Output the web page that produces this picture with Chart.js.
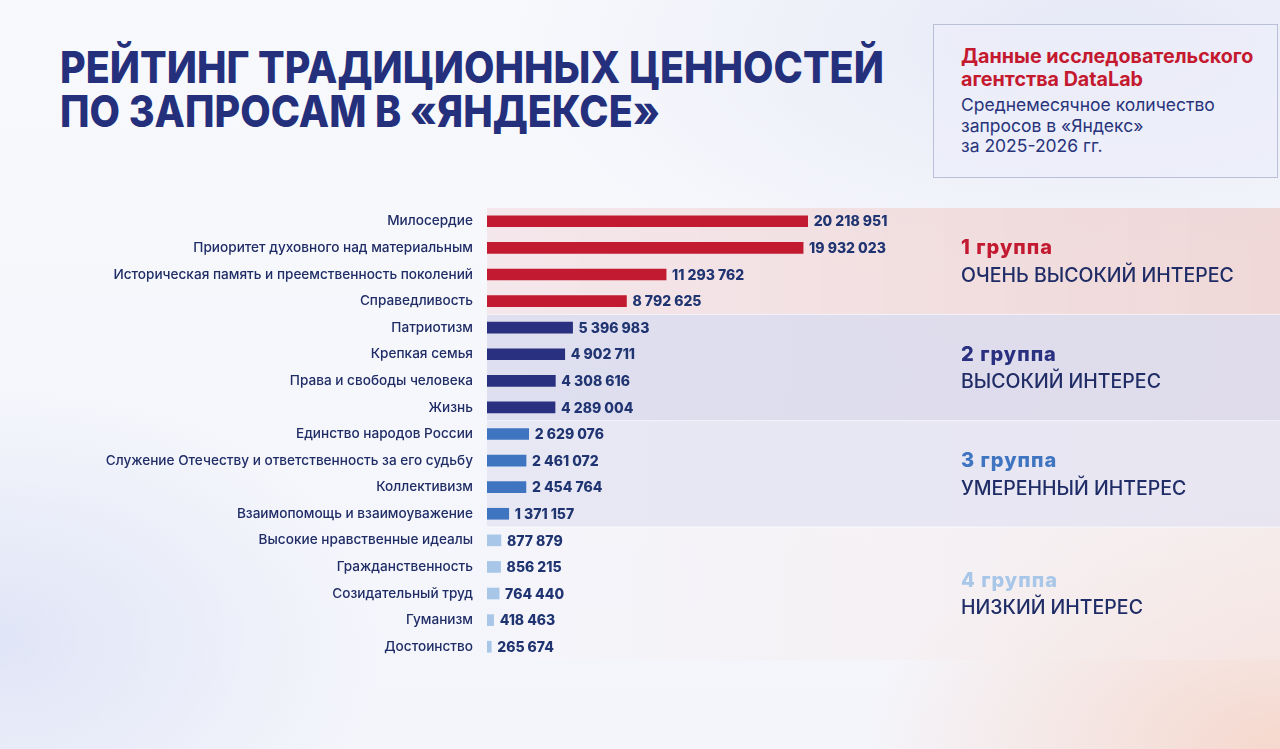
<!DOCTYPE html>
<html lang="ru">
<head>
<meta charset="utf-8">
<script src="https://cdn.jsdelivr.net/npm/chart.js@4.4.1/dist/chart.umd.min.js"></script>
<style>
  html, body { margin: 0; padding: 0; }
  body {
    width: 1280px; height: 749px; overflow: hidden; position: relative;
    font-family: Inter, "Noto Sans", sans-serif;
    background:
      radial-gradient(ellipse 420px 260px at 1280px 749px, rgba(246, 206, 190, 0.75), rgba(246, 206, 190, 0) 100%),
      radial-gradient(ellipse 380px 260px at 0px 640px, rgba(215, 222, 245, 0.7), rgba(215, 222, 245, 0) 100%),
      radial-gradient(ellipse 600px 260px at 1100px 40px, rgba(225, 228, 245, 0.8), rgba(225, 228, 245, 0) 100%),
      linear-gradient(180deg, #f8f9fc 0%, #f4f5fb 100%);
  }
  #title {
    position: absolute; left: 60px; top: 45px; margin: 0;
    font-weight: 800; font-size: 44px; line-height: 44px; letter-spacing: 0;
    color: #25307d; white-space: nowrap; transform-origin: 0 0;
  }
  #info {
    position: absolute; left: 933px; top: 24px; width: 345px; height: 154px;
    box-sizing: border-box; border: 1px solid #b9c0d8;
    background: rgba(236, 238, 249, 0.75);
    padding: 20px 0 0 27px;
  }
  #info .src { color: #c4192f; font-weight: 700; font-size: 19.7px; line-height: 23px; }
  #info .desc { color: #28337a; font-size: 17.5px; line-height: 20.5px; margin-top: 4px; }
  #wrap { position: absolute; left: 0; top: 0; width: 1280px; height: 749px; }
</style>
</head>
<body>
<h1 id="title">РЕЙТИНГ ТРАДИЦИОННЫХ ЦЕННОСТЕЙ<br>ПО ЗАПРОСАМ В «ЯНДЕКСЕ»</h1>
<div id="info">
  <div class="src">Данные исследовательского<br>агентства DataLab</div>
  <div class="desc">Среднемесячное количество<br>запросов в «Яндекс»<br>за 2025-2026 гг.</div>
</div>
<div id="wrap"><canvas id="chart"></canvas></div>
<script>
// Values
const categories = [
    'Милосердие',
    'Приоритет духовного над материальным',
    'Историческая память и преемственность поколений',
    'Справедливость',
    'Патриотизм',
    'Крепкая семья',
    'Права и свободы человека',
    'Жизнь',
    'Единство народов России',
    'Служение Отечеству и ответственность за его судьбу',
    'Коллективизм',
    'Взаимопомощь и взаимоуважение',
    'Высокие нравственные идеалы',
    'Гражданственность',
    'Созидательный труд',
    'Гуманизм',
    'Достоинство'
];
const requests = [
    20218951, 19932023, 11293762, 8792625,
    5396983, 4902711, 4308616, 4289004,
    2629076, 2461072, 2454764, 1371157,
    877879, 856215, 764440, 418463, 265674
];
// group number (0..3) for every row
const rowGroup = [0, 0, 0, 0, 1, 1, 1, 1, 2, 2, 2, 2, 3, 3, 3, 3, 3];
const groupTitles = ['1 группа', '2 группа', '3 группа', '4 группа'];
const groupSubtitles = ['ОЧЕНЬ ВЫСОКИЙ ИНТЕРЕС', 'ВЫСОКИЙ ИНТЕРЕС', 'УМЕРЕННЫЙ ИНТЕРЕС', 'НИЗКИЙ ИНТЕРЕС'];

// Styles
const groupColors = ['#c21a30', '#28307f', '#3f74c0', '#a8c6e8'];
const bandColors = [
    ['rgba(243, 226, 230, 0.8)', 'rgba(238, 210, 208, 0.85)'],
    ['rgba(216, 216, 236, 0.8)', 'rgba(218, 212, 230, 0.8)'],
    ['rgba(226, 227, 242, 0.75)', 'rgba(226, 224, 238, 0.75)'],
    ['rgba(244, 245, 251, 0.6)', 'rgba(246, 232, 230, 0.6)']
];
const textNavy = '#1f2c66';

// squeeze the heading to the width it has in the picture
const title = document.getElementById('title');
title.style.transform = 'scaleX(' + (824 / title.scrollWidth) + ')';

const fmt = v => String(v).replace(/\B(?=(\d{3})+(?!\d))/g, ' ');

// group bands behind the bars + group captions on the right
const bandsPlugin = {
    id: 'bands',
    beforeDatasetsDraw(chart) {
        const { ctx, chartArea, scales: { y } } = chart;
        const step = y.getPixelForValue(1) - y.getPixelForValue(0);
        const right = chart.width;
        groupTitles.forEach((t, g) => {
            const first = rowGroup.indexOf(g);
            const last = rowGroup.lastIndexOf(g);
            const top = y.getPixelForValue(first) - step / 2;
            const bottom = y.getPixelForValue(last) + step / 2;
            const grad = ctx.createLinearGradient(chartArea.left, 0, right, 0);
            grad.addColorStop(0, bandColors[g][0]);
            grad.addColorStop(1, bandColors[g][1]);
            ctx.save();
            ctx.fillStyle = grad;
            ctx.fillRect(chartArea.left, top, right - chartArea.left, bottom - top);
            if (g > 0) {
                ctx.fillStyle = 'rgba(255, 255, 255, 0.55)';
                ctx.fillRect(chartArea.left, top - 0.5, right - chartArea.left, 1);
            }
            const mid = (top + bottom) / 2;
            ctx.textAlign = 'left';
            ctx.textBaseline = 'middle';
            ctx.fillStyle = groupColors[g];
            ctx.font = '800 20px Inter';
            ctx.letterSpacing = '1px';
            ctx.fillText(t, 961, mid - 13);
            ctx.letterSpacing = '0px';
            ctx.fillStyle = textNavy;
            ctx.font = '500 19.5px Inter';
            ctx.fillText(groupSubtitles[g], 961, mid + 15);
            ctx.restore();
        });
    }
};

// numbers at the bar ends
const valueLabels = {
    id: 'valueLabels',
    afterDatasetsDraw(chart) {
        const { ctx } = chart;
        const meta = chart.getDatasetMeta(0);
        ctx.save();
        ctx.font = '800 14px Inter';
        ctx.fillStyle = '#1f3470';
        ctx.textAlign = 'left';
        ctx.textBaseline = 'middle';
        meta.data.forEach((bar, i) => {
            ctx.fillText(fmt(requests[i]), bar.x + 6, bar.y + 1);
        });
        ctx.restore();
    }
};

const ctx = document.getElementById('chart').getContext('2d');
const chart = new Chart(ctx, {
    type: 'bar',
    data: {
        labels: categories,
        datasets: [{
            data: requests,
            backgroundColor: rowGroup.map(g => groupColors[g]),
            barThickness: 11,
            borderWidth: 0
        }]
    },
    options: {
        indexAxis: 'y',
        responsive: true,
        maintainAspectRatio: false,
        animation: { duration: 0 },
        layout: { padding: { top: 208, bottom: 89, left: 0, right: 0 } },
        plugins: { legend: { display: false }, tooltip: { enabled: false } },
        scales: {
            x: { display: false, min: 0, max: 50000000 },
            y: {
                afterFit: s => { s.width = 487; },
                grid: { display: false, drawTicks: false },
                border: { display: false },
                ticks: {
                    color: textNavy,
                    padding: 14,
                    font: { family: 'Inter', size: 13.6, weight: 500 }
                }
            }
        }
    },
    plugins: [bandsPlugin, valueLabels]
});
</script>
</body>
</html>
